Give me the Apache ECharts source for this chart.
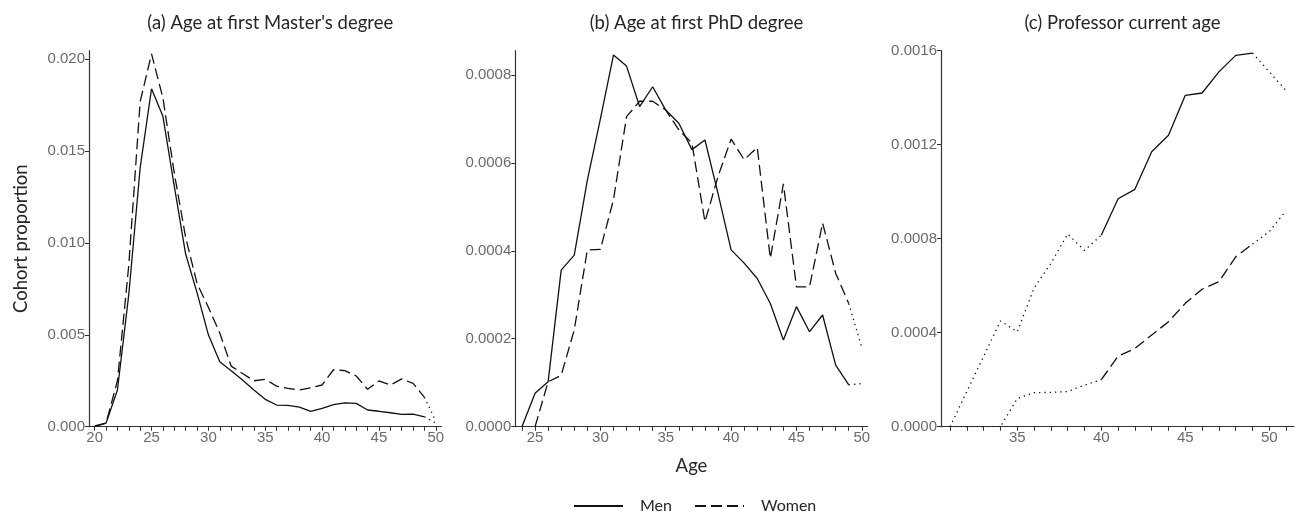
<!DOCTYPE html>
<html>
<head>
<meta charset="utf-8">
<script src="https://cdn.jsdelivr.net/npm/echarts@6/dist/echarts.min.js"></script>
<style>
html,body{margin:0;padding:0;background:#fff;}
#chart{width:1296px;height:516px;}
</style>
</head>
<body>
<div id="chart"></div>
<script>
// ---------- data ----------
const panelTitles = ["(a) Age at first Master's degree", "(b) Age at first PhD degree", "(c) Professor current age"];
const seriesNames = ["Men", "Women"];

const aAges = [20,21,22,23,24,25,26,27,28,29,30,31,32,33,34,35,36,37,38,39,40,41,42,43,44,45,46,47,48,49,50];
const aMen = [0.00005,0.0002,0.002,0.0072,0.0141,0.0184,0.0169,0.0131,0.0094,0.0073,0.0050,0.00354,0.00305,0.00254,0.0020,0.00149,0.00118,0.00116,0.00106,0.00084,0.0010,0.0012,0.0013,0.00127,0.00091,0.00084,0.00076,0.00067,0.00069,0.00054,0.0002];
const aWomen = [0,0.0002,0.0025,0.0088,0.0177,0.0203,0.0179,0.0138,0.0103,0.0078,0.0065,0.0051,0.0033,0.0029,0.0025,0.00258,0.00221,0.00209,0.0020,0.00212,0.00227,0.0031,0.00305,0.00276,0.00204,0.00249,0.00227,0.0026,0.00236,0.0016,0.0003];
const aReliable = [20, 49];

const bAges = [24,25,26,27,28,29,30,31,32,33,34,35,36,37,38,39,40,41,42,43,44,45,46,47,48,49,50];
const bMen = [0,0.000076,0.000102,0.000356,0.00039,0.00056,0.0007,0.000845,0.00082,0.000728,0.000773,0.00072,0.00069,0.00063,0.000652,0.00053,0.000402,0.000372,0.000337,0.00028,0.000197,0.000273,0.000216,0.000254,0.00014,0.000095,0.000098];
const bWomen = [null,0,0.000102,0.000117,0.00022,0.000402,0.000403,0.000516,0.000705,0.00074,0.00074,0.00072,0.000675,0.000645,0.000466,0.000569,0.000654,0.000607,0.000635,0.000383,0.000552,0.000318,0.000318,0.000463,0.000349,0.00028,0.00018];
const bReliable = [24, 49];

const cAges = [31,32,33,34,35,36,37,38,39,40,41,42,43,44,45,46,47,48,49,50,51];
const cMen = [0,0.00015,0.0003,0.00045,0.000404,0.00059,0.000695,0.00082,0.00075,0.000815,0.00097,0.00101,0.00117,0.00124,0.00141,0.00142,0.00151,0.00158,0.00159,0.00151,0.00143];
const cWomen = [0,0,0,0,0.00012,0.000145,0.000146,0.00015,0.000177,0.0002,0.0003,0.000333,0.00039,0.000447,0.000525,0.000585,0.000617,0.000723,0.000777,0.00083,0.00092];
const cReliable = [40, 49];

const aXTicks = [20,21,22,23,24,25,26,27,28,29,30,31,32,33,34,35,36,37,38,39,40,41,42,43,44,45,46,47,48,49,50];
const aXLabels = [20,25,30,35,40,45,50];
const bXTicks = [24,25,26,27,28,29,30,31,32,33,34,35,36,37,38,39,40,41,42,43,44,45,46,47,48,49,50];
const bXLabels = [25,30,35,40,45,50];
const cXTicks = [31,32,33,34,35,36,37,38,39,40,41,42,43,44,45,46,47,48,49,50,51];
const cXLabels = [35,40,45,50];
const aYTicks = [0,0.005,0.010,0.015,0.020];
const bYTicks = [0,0.0002,0.0004,0.0006,0.0008];
const cYTicks = [0,0.0004,0.0008,0.0012,0.0016];

// ---------- layout / style ----------
const panels = [
  {ages:aAges, men:aMen, women:aWomen, rel:aReliable, xt:aXTicks, xl:aXLabels, yt:aYTicks, dec:3,
   left:89, width:352.5, xmin:19.5, xmax:50.5, ymax:0.02047},
  {ages:bAges, men:bMen, women:bWomen, rel:bReliable, xt:bXTicks, xl:bXLabels, yt:bYTicks, dec:4,
   left:515.3, width:352.4, xmin:23.49, xmax:50.45, ymax:0.000855},
  {ages:cAges, men:cMen, women:cWomen, rel:cReliable, xt:cXTicks, xl:cXLabels, yt:cYTicks, dec:4,
   left:941, width:353, xmin:30.46, xmax:51.47, ymax:0.0016}
];
const TOP = 50.7, HEIGHT = 376;
const LINE = '#111';
const AXIS = '#333';
const LABEL = '#6b6b6b';
const TFONT = 'Lato, "Open Sans", sans-serif';
const NFONT = '"Liberation Sans", Arial, sans-serif';
const dashPat = [11, 5];
const dotPat = [1.3, 4];

const grids = [], xAxes = [], yAxes = [], series = [], titles = [];
panels.forEach((p, i) => {
  grids.push({left:p.left, top:TOP, width:p.width, height:HEIGHT, containLabel:false});
  titles.push({text:panelTitles[i], left:p.left + p.width/2, top:9, textAlign:'center',
    textStyle:{fontFamily:TFONT, fontSize:18.5, fontWeight:'normal', color:'#262626'}});
  xAxes.push({type:'value', gridIndex:i, min:p.xmin, max:p.xmax,
    name: i===1 ? 'Age' : '', nameLocation:'middle', nameGap:30,
    nameTextStyle:{fontFamily:TFONT, fontSize:18.5, color:'#262626'},
    axisLine:{show:true, onZero:false, lineStyle:{color:AXIS, width:1.2}},
    axisTick:{show:true, length:4, customValues:p.xt, lineStyle:{color:AXIS, width:1}},
    axisLabel:{customValues:p.xl, color:LABEL, fontFamily:NFONT, fontSize:15, margin:4},
    splitLine:{show:false}});
  yAxes.push({type:'value', gridIndex:i, min:0, max:p.ymax,
    name: i===0 ? 'Cohort proportion' : '', nameLocation:'middle', nameGap:58, nameRotate:90,
    nameTextStyle:{fontFamily:TFONT, fontSize:18.5, color:'#262626'},
    axisLine:{show:true, onZero:false, lineStyle:{color:AXIS, width:1.2}},
    axisTick:{show:true, length:4, customValues:p.yt, lineStyle:{color:AXIS, width:1}},
    axisLabel:{customValues:p.yt, color:LABEL, fontFamily:NFONT, fontSize:15, margin:4,
      formatter:(v)=>Number(v).toFixed(p.dec)},
    splitLine:{show:false}});
  const lo = p.rel[0], hi = p.rel[1];
  [['Men', p.men, 'solid'], ['Women', p.women, dashPat]].forEach(([nm, vals, ty]) => {
    const main = p.ages.map((a, k) => [a, (a >= lo && a <= hi) ? vals[k] : null]);
    const dot = p.ages.map((a, k) => [a, (a <= lo || a >= hi) ? vals[k] : null]);
    series.push({name:nm, type:'line', xAxisIndex:i, yAxisIndex:i, data:main, symbol:'none',
      connectNulls:false, silent:true, animation:false,
      lineStyle:{color:LINE, width:1.3, type:ty}, itemStyle:{color:LINE}});
    series.push({name:nm + ' (few obs.)', type:'line', xAxisIndex:i, yAxisIndex:i, data:dot, symbol:'none',
      connectNulls:false, silent:true, animation:false,
      lineStyle:{color:LINE, width:1.3, type:dotPat}, itemStyle:{color:LINE}});
  });
});

const chart = echarts.init(document.getElementById('chart'), null, {renderer:'canvas'});
chart.setOption({
  backgroundColor:'#fff',
  animation:false,
  title:titles,
  grid:grids,
  xAxis:xAxes,
  yAxis:yAxes,
  legend:{data:seriesNames, left:573, top:498, padding:0, itemWidth:49, itemHeight:16, itemGap:22,
    itemStyle:{opacity:0},
    textStyle:{fontFamily:TFONT, fontSize:16, color:'#262626', padding:[0,0,0,12]},
    selectedMode:false},
  series:series
});
</script>
</body>
</html>
